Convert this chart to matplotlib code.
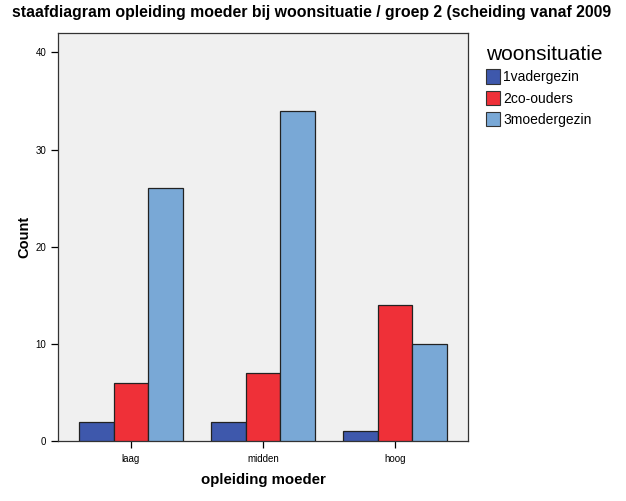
import matplotlib
matplotlib.use("Agg")
import matplotlib.pyplot as plt
from matplotlib.patches import Patch
import numpy as np

plt.rcParams['font.family'] = ['Liberation Sans', 'DejaVu Sans']

categories = ['laag', 'midden', 'hoog']
series_names = ['1vadergezin', '2co-ouders', '3moedergezin']
vadergezin = [2, 2, 1]
co_ouders = [6, 7, 14]
moedergezin = [26, 34, 10]
colors = ['#3e58ac', '#ef3038', '#79a8d6']

fig = plt.figure(figsize=(6.26, 5.01), dpi=100)
ax = fig.add_axes([58 / 626, 60 / 501, 410 / 626, 408 / 501])
ax.set_facecolor('#f0f0f0')

x = np.arange(len(categories))
w = 0.265
for i, vals in enumerate([vadergezin, co_ouders, moedergezin]):
    ax.bar(x + (i - 1) * w, vals, width=w, color=colors[i],
           edgecolor='#222222', linewidth=0.9, zorder=3)

ax.set_xlim(-0.553, 2.553)
ax.set_ylim(0, 42)
ax.set_yticks([0, 10, 20, 30, 40])
ax.set_xticks(x)
ax.set_xticklabels(categories)
ax.tick_params(axis='both', labelsize=7, direction='out', length=5, width=0.9)
ax.tick_params(axis='x', pad=4)
for s in ax.spines.values():
    s.set_color('#333333')
    s.set_linewidth(0.9)

ax.set_ylabel('Count', fontsize=10.5, fontweight='bold', labelpad=3)
ax.set_xlabel('opleiding moeder', fontsize=10.8, fontweight='bold', labelpad=7)

fig.text(12 / 626, 1 - 12 / 501, 'staafdiagram opleiding moeder bij woonsituatie / groep 2 (scheiding vanaf 2009',
         fontsize=11.4, fontweight='bold', ha='left', va='center')

handles = [Patch(facecolor=c, edgecolor='#333333', linewidth=0.8) for c in colors]
leg = fig.legend(handles, series_names, title='woonsituatie', loc='upper left',
                 bbox_to_anchor=(476 / 626, 1 - 35 / 501), frameon=False,
                 fontsize=10, title_fontsize=15, handlelength=1.05, handleheight=1.25,
                 handletextpad=0.2, labelspacing=0.45, borderpad=0.2)
leg._legend_box.align = 'left'
leg._legend_box.sep = 4

fig.savefig('out.png', dpi=100)
